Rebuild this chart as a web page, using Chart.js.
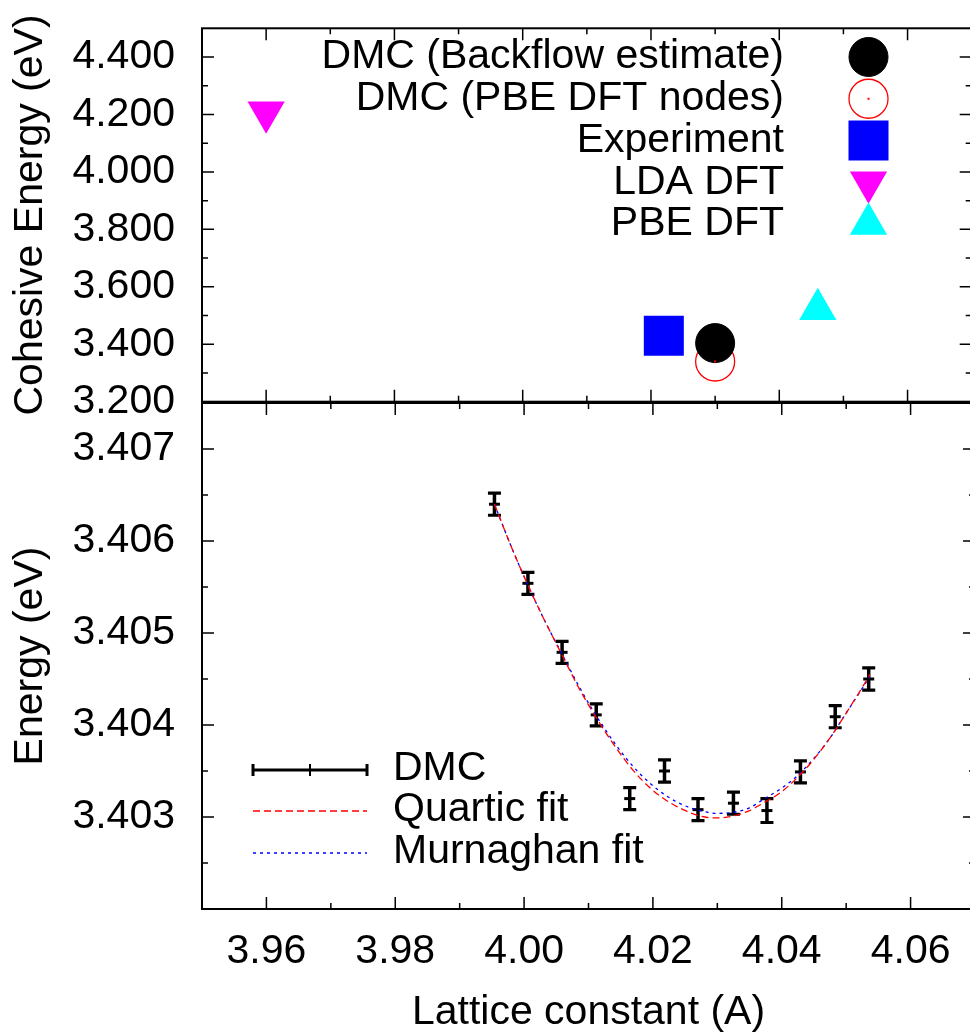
<!DOCTYPE html>
<html><head><meta charset="utf-8">
<script src="https://cdn.jsdelivr.net/npm/chart.js@4.4.1/dist/chart.umd.min.js"></script>
<style>
html,body{margin:0;padding:0;background:#fff;overflow:hidden;width:970px;height:1032px;}
canvas{position:absolute;left:0;}
#topChart{top:0;}
#botChart{top:380px;}
</style></head><body>
<canvas id="topChart" width="1000" height="430" style="width:1000px;height:430px"></canvas>
<canvas id="botChart" width="1000" height="657" style="width:1000px;height:657px"></canvas>
<script>
// ---------- data ----------
const xTicks = [3.96, 3.98, 4.00, 4.02, 4.04, 4.06];
const topYTicks = [3.2, 3.4, 3.6, 3.8, 4.0, 4.2, 4.4];
const bottomYTicks = [3.403, 3.404, 3.405, 3.406, 3.407];

const topLabels = ['DMC (Backflow estimate)', 'DMC (PBE DFT nodes)', 'Experiment', 'LDA DFT', 'PBE DFT'];
const topLattice = [4.030, 4.030, 4.022, 3.960, 4.046];
const topCohesive = [3.404, 3.340, 3.430, 4.208, 3.522];

const dmcLattice = [3.9954, 4.0006, 4.0059, 4.0112, 4.0164, 4.0218, 4.0270, 4.0325, 4.0377, 4.0429, 4.0483, 4.0535];
const dmcEnergy  = [3.40640, 3.40554, 3.40479, 3.40411, 3.40320, 3.40350, 3.40308, 3.40315, 3.40307, 3.40349, 3.40409, 3.40450];
const dmcError   = [0.00012, 0.00012, 0.00012, 0.00012, 0.00012, 0.00012, 0.00012, 0.00012, 0.00013, 0.00012, 0.00012, 0.00012];

const fitLattice = [3.9954, 3.9980, 4.0006, 4.0033, 4.0059, 4.0086, 4.0112, 4.0143, 4.0169, 4.0195, 4.0221, 4.0247, 4.0273, 4.0299, 4.0324, 4.0350, 4.0371, 4.0397, 4.0423, 4.0449, 4.0475, 4.0500, 4.0526, 4.0537];
const quarticEnergy = [3.40640, 3.40594, 3.40552, 3.40512, 3.40476, 3.40439, 3.40408, 3.40375, 3.40351, 3.40332, 3.40318, 3.40308, 3.40301, 3.40299, 3.40301, 3.40307, 3.40315, 3.40326, 3.40342, 3.40362, 3.40386, 3.40413, 3.40442, 3.40455];
const murnaghanEnergy = [3.40640, 3.40594, 3.40552, 3.40512, 3.40477, 3.40441, 3.40410, 3.40378, 3.40355, 3.40337, 3.40323, 3.40313, 3.40307, 3.40304, 3.40305, 3.40310, 3.40319, 3.40330, 3.40344, 3.40363, 3.40386, 3.40413, 3.40441, 3.40453];

// ---------- styles / helpers ----------
const FONT = 'Liberation Sans';
const QUARTIC_COLOR = '#ff0000';
const MURNAGHAN_COLOR = '#0000ff';
const QUARTIC_DASH = [7, 4];
const MURNAGHAN_DASH = [3, 4];
Chart.defaults.font.family = FONT;
Chart.defaults.font.size = 41;
Chart.defaults.color = '#000';

function pts(xs, ys) { return xs.map((x, i) => ({x: x, y: ys[i]})); }
function minorOf(major, lo, hi) {
  const step = major[1] - major[0];
  const out = [];
  major.forEach(t => {
    [t - step / 2, t + step / 2].forEach(v => {
      if (v > lo + step * 0.01 && v < hi - step * 0.01 && !out.some(o => Math.abs(o - v) < step * 0.01)) out.push(v);
    });
  });
  return out;
}
function setTicks(arr) { return function (s) { s.ticks = arr.map(v => ({value: v})); }; }

const framePlugin = {
  id: 'frame',
  afterDraw(chart) {
    const {ctx, chartArea: a, scales} = chart;
    const xs = scales.x, ys = scales.y;
    const yMaj = chart.options.plugins.frame.yMajor;
    ctx.save();
    ctx.strokeStyle = '#000';
    ctx.lineWidth = 1.5;
    const MAJ = 12, MIN = 6;
    const drawX = (v, len) => {
      const p = xs.getPixelForValue(v);
      if (p <= a.left + 1 || p >= a.right - 1) return;
      ctx.beginPath();
      ctx.moveTo(p, a.top); ctx.lineTo(p, a.top + len);
      ctx.moveTo(p, a.bottom); ctx.lineTo(p, a.bottom - len);
      ctx.stroke();
    };
    const drawY = (v, len) => {
      const p = ys.getPixelForValue(v);
      if (p <= a.top + 1 || p >= a.bottom - 1) return;
      ctx.beginPath();
      ctx.moveTo(a.left, p); ctx.lineTo(a.left + len, p);
      ctx.moveTo(a.right, p); ctx.lineTo(a.right - len, p);
      ctx.stroke();
    };
    xTicks.forEach(v => drawX(v, MAJ));
    minorOf(xTicks, xs.min, xs.max).forEach(v => drawX(v, MIN));
    yMaj.forEach(v => drawY(v, MAJ));
    minorOf(yMaj, ys.min, ys.max).forEach(v => drawY(v, MIN));
    ctx.lineWidth = 2;
    ctx.strokeRect(a.left, a.top, a.right - a.left, a.bottom - a.top);
    ctx.restore();
  }
};

function fixPad(width, height) {
  return function (s) {
    if (width !== null) s.width = width;
    if (height !== null) s.height = height;
    s.paddingTop = 0; s.paddingBottom = 0; s.paddingLeft = 0; s.paddingRight = 0;
  };
}

// ---------- top chart ----------
const topStyles = [
  {pointStyle: 'circle', pointRadius: 19.5, pointBackgroundColor: '#000000', pointBorderColor: '#000000', pointBorderWidth: 1, pointRotation: 0},
  {pointStyle: 'circle', pointRadius: 19.5, pointBackgroundColor: 'rgba(0,0,0,0)', pointBorderColor: '#ff0000', pointBorderWidth: 1.3, pointRotation: 0},
  {pointStyle: 'rect', pointRadius: 28.3, pointBackgroundColor: '#0000ff', pointBorderColor: '#0000ff', pointBorderWidth: 0, pointRotation: 0},
  {pointStyle: 'triangle', pointRadius: 21.5, pointBackgroundColor: '#ff00ff', pointBorderColor: '#ff00ff', pointBorderWidth: 0, pointRotation: 180},
  {pointStyle: 'triangle', pointRadius: 21.5, pointBackgroundColor: '#00ffff', pointBorderColor: '#00ffff', pointBorderWidth: 0, pointRotation: 0}
];

const topLegendPlugin = {
  id: 'topLegend',
  afterDraw(chart) {
    const ctx = chart.ctx;
    ctx.save();
    topLabels.forEach((lab, i) => {
      const st = topStyles[i];
      const yy = 57 + 41.75 * i;
      ctx.font = '41px "' + FONT + '"';
      ctx.textAlign = 'right';
      ctx.textBaseline = 'middle';
      ctx.fillStyle = '#000';
      ctx.fillText(lab, 784, yy);
      ctx.fillStyle = st.pointBackgroundColor;
      ctx.strokeStyle = st.pointBorderColor;
      ctx.lineWidth = st.pointBorderWidth;
      Chart.helpers.drawPoint(ctx, {pointStyle: st.pointStyle, radius: st.pointRadius, rotation: st.pointRotation, borderWidth: st.pointBorderWidth}, 868.5, yy);
      if (i === 1) { ctx.fillStyle = '#ff0000'; ctx.fillRect(867.5, yy - 1, 2, 2); }
    });
    const el = chart.getDatasetMeta(1).data[0];
    ctx.fillStyle = '#ff0000';
    ctx.fillRect(el.x - 1, el.y - 1, 2, 2);
    ctx.restore();
  }
};

new Chart(document.getElementById('topChart'), {
  type: 'scatter',
  data: {
    datasets: topLabels.map((lab, i) => Object.assign({
      label: lab,
      data: [{x: topLattice[i], y: topCohesive[i]}],
      showLine: false
    }, topStyles[i]))
  },
  options: {
    responsive: false,
    animation: false,
    layout: {padding: {left: 0, top: 23, right: 25, bottom: 0}},
    plugins: {legend: {display: false}, tooltip: {enabled: false}, frame: {yMajor: topYTicks}},
    scales: {
      x: {
        type: 'linear', position: 'bottom', min: 3.95, max: 4.07,
        grid: {display: false, drawTicks: false}, border: {display: false},
        ticks: {display: false},
        afterBuildTicks: setTicks(xTicks),
        afterFit: fixPad(null, 27)
      },
      y: {
        type: 'linear', position: 'left', min: 3.2, max: 4.5,
        grid: {display: false, drawTicks: false}, border: {display: false},
        ticks: {padding: 27, font: {size: 41}, callback: v => Number(v).toFixed(3)},
        title: {display: true, text: 'Cohesive Energy (eV)', font: {size: 41}, padding: {top: 6, bottom: 0}},
        afterBuildTicks: setTicks(topYTicks),
        afterFit: fixPad(202, null)
      }
    }
  },
  plugins: [framePlugin, topLegendPlugin]
});

// ---------- bottom chart ----------
const errorBarPlugin = {
  id: 'errorBars',
  beforeDatasetsDraw(chart) {
    const {ctx, scales: {x, y}} = chart;
    ctx.save();
    ctx.strokeStyle = '#000';
    dmcLattice.forEach((lx, i) => {
      const px = x.getPixelForValue(lx);
      const t = y.getPixelForValue(dmcEnergy[i] + dmcError[i]);
      const b = y.getPixelForValue(dmcEnergy[i] - dmcError[i]);
      ctx.lineWidth = 3.5;
      ctx.beginPath();
      ctx.moveTo(px, t); ctx.lineTo(px, b);
      ctx.stroke();
      ctx.lineWidth = 3.2;
      ctx.beginPath();
      ctx.moveTo(px - 6.5, t); ctx.lineTo(px + 6.5, t);
      ctx.moveTo(px - 6.5, b); ctx.lineTo(px + 6.5, b);
      ctx.stroke();
    });
    ctx.restore();
  }
};

const botLegendPlugin = {
  id: 'botLegend',
  afterDraw(chart) {
    const ctx = chart.ctx;
    const off = 380; // canvas top offset in page
    const x0 = 253, x1 = 367;
    const rows = [
      {label: 'DMC', kind: 'err', y: 770},
      {label: 'Quartic fit', color: QUARTIC_COLOR, dash: QUARTIC_DASH, y: 811},
      {label: 'Murnaghan fit', color: MURNAGHAN_COLOR, dash: MURNAGHAN_DASH, y: 853}
    ];
    ctx.save();
    rows.forEach((r, i) => {
      const yy = r.y - off;
      ctx.save();
      if (r.kind === 'err') {
        ctx.strokeStyle = '#000'; ctx.lineWidth = 3;
        ctx.beginPath();
        ctx.moveTo(x0, yy); ctx.lineTo(x1, yy);
        ctx.moveTo(x0, yy - 6); ctx.lineTo(x0, yy + 6);
        ctx.moveTo(x1, yy - 6); ctx.lineTo(x1, yy + 6);
        ctx.stroke();
        ctx.lineWidth = 2;
        ctx.beginPath(); ctx.moveTo(310, yy - 6); ctx.lineTo(310, yy + 6); ctx.stroke();
      } else {
        ctx.strokeStyle = r.color; ctx.lineWidth = 1.6;
        ctx.setLineDash(r.dash);
        ctx.beginPath(); ctx.moveTo(x0, yy); ctx.lineTo(x1, yy); ctx.stroke();
      }
      ctx.restore();
      ctx.font = '41px "' + FONT + '"';
      ctx.textAlign = 'left'; ctx.textBaseline = 'middle'; ctx.fillStyle = '#000';
      ctx.fillText(r.label, 393, yy - 1);
    });
    ctx.restore();
  }
};

new Chart(document.getElementById('botChart'), {
  type: 'scatter',
  data: {
    datasets: [
      {
        label: 'Quartic fit',
        data: pts(fitLattice, quarticEnergy),
        showLine: true, pointRadius: 0,
        borderColor: QUARTIC_COLOR, borderWidth: 1.3, borderDash: QUARTIC_DASH,
        cubicInterpolationMode: 'monotone'
      },
      {
        label: 'Murnaghan fit',
        data: pts(fitLattice, murnaghanEnergy),
        showLine: true, pointRadius: 0,
        borderColor: MURNAGHAN_COLOR, borderWidth: 1.3, borderDash: MURNAGHAN_DASH,
        cubicInterpolationMode: 'monotone'
      },
      {
        label: 'DMC',
        data: pts(dmcLattice, dmcEnergy),
        showLine: false,
        pointStyle: 'line', pointRadius: 5.5, pointBorderWidth: 3,
        pointBorderColor: '#000', pointBackgroundColor: '#000'
      }
    ]
  },
  options: {
    responsive: false,
    animation: false,
    layout: {padding: {left: 0, top: 23, right: 25, bottom: 0}},
    plugins: {legend: {display: false}, tooltip: {enabled: false}, frame: {yMajor: bottomYTicks}},
    scales: {
      x: {
        type: 'linear', position: 'bottom', min: 3.95, max: 4.07,
        grid: {display: false, drawTicks: false}, border: {display: false},
        ticks: {padding: 18, font: {size: 41}, maxRotation: 0, autoSkip: false, callback: v => Number(v).toFixed(2)},
        title: {display: true, text: 'Lattice constant (A)', font: {size: 41}, padding: {top: 0, bottom: 0}},
        afterBuildTicks: setTicks(xTicks),
        afterFit: fixPad(null, 128)
      },
      y: {
        type: 'linear', position: 'left', min: 3.402, max: 3.4075,
        grid: {display: false, drawTicks: false}, border: {display: false},
        ticks: {padding: 27, font: {size: 41}, callback: v => Number(v).toFixed(3)},
        title: {display: true, text: 'Energy (eV)', font: {size: 41}, padding: {top: 6, bottom: 0}},
        afterBuildTicks: setTicks(bottomYTicks),
        afterFit: fixPad(202, null)
      }
    }
  },
  plugins: [framePlugin, errorBarPlugin, botLegendPlugin]
});
</script>
</body></html>
